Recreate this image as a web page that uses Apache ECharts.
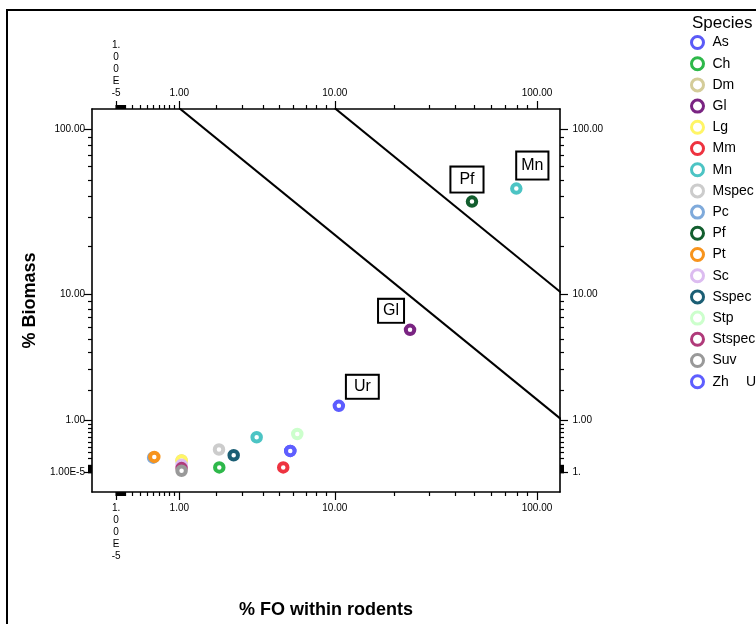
<!DOCTYPE html>
<html><head><meta charset="utf-8">
<script src="https://cdn.jsdelivr.net/npm/echarts@6/dist/echarts.min.js"></script>
<style>html,body{margin:0;padding:0;background:#fff}#c{width:756px;height:624px}</style>
</head><body><div id="c"></div>
<script>
// ---- data ----
const speciesNames = ['As','Ch','Dm','Gl','Lg','Mm','Mn','Mspec','Pc','Pf','Pt','Sc','Sspec','Stp','Stspec','Suv','Zh'];
const speciesColors = ['#5b5bf7','#2eb84a','#d4cc99','#7a2482','#fff566','#ee3340','#4cc4c4','#cccccc','#7faadb','#125e2e','#f7941d','#dcbcf0','#1b5e74','#ccffcc','#b03a7a','#999999','#5e5eff'];
const extraSpecies = ['Ur'];
const extraColors = ['#5c5cff'];

const pointSpecies = ['Pc','Pt','Dm','Lg','Sc','Stspec','Suv','Mspec','Ch','Sspec','Mn','Stp','As','Zh','Mm','Ur','Gl','Pf','Mn'];
const pointFO      = [0.50, 0.52, 1.05, 1.05, 1.05, 1.05, 1.05, 2.09, 2.10, 2.63, 3.67, 6.29, 5.75, 5.75, 5.25, 10.5, 24.1, 48.5, 79.5];
const pointBiomass = [0.215,0.227,0.17, 0.169,0.103,0.055,0.018,0.355,0.065,0.255,0.598,0.67, 0.33, 0.33, 0.065,1.44, 5.78, 37.1, 44.4];

const refLineA_FO = [1, 133];
const refLineA_Biomass = [133, 1];
const refLineB_FO = [10, 133];
const refLineB_Biomass = [133, 10];

const majorTickValues = [0.00001, 1, 10, 100];
const leftTickLabels   = ['1.00E-5', '1.00', '10.00', '100.00'];
const rightTickLabels  = ['1.', '1.00', '10.00', '100.00'];
const xTickLabels      = ['1.\n0\n0\nE\n-5', '1.00', '10.00', '100.00'];
const minorTickMultipliers = [2,3,4,5,6,7,8,9];
const minorTickDecades = [0.001, 0.01, 0.1, 1, 10];

const labeledSpecies = ['Gl','Pf','Mn','Ur'];
// layout of the boxed labels (offset from point, padding)
const labelLayout = {
  Pf: {offset: [-5, -22], padding: [3, 8]},
  Mn: {offset: [16, -23], padding: [4, 4]},
  Gl: {offset: [-19, -19], padding: [2, 4]},
  Ur: {offset: [23.5, -19], padding: [2, 7]}
};

// ---- scale: log10(v + 1) ----
const T = v => Math.log10(v + 1);
const majorT = majorTickValues.map(T);
const minorT = [];
minorTickDecades.forEach(d => {
  if (d < 1) minorT.push(T(d));
  minorTickMultipliers.forEach(m => minorT.push(T(m * d)));
});
const labelFor = arr => v => {
  let best = 0;
  majorT.forEach((t, i) => { if (Math.abs(t - v) < Math.abs(majorT[best] - v)) best = i; });
  return arr[best];
};

const FONT = 'Liberation Sans, Arial, sans-serif';
const xMin = -0.1148, xMax = 2.1138, yMin = -0.1163, yMax = 2.1221;

function axis(kind, position, major, labels, margin, extra) {
  const a = {
    type: 'value', position, min: kind === 'x' ? xMin : yMin, max: kind === 'x' ? xMax : yMax,
    splitLine: {show: false},
    axisLine: {show: major, onZero: false, lineStyle: {color: '#000', width: 1.6}},
    axisTick: {show: true, inside: false, length: major ? 8 : 4, customValues: major ? majorT : minorT,
               lineStyle: {color: '#000', width: 1.2}},
    axisLabel: major ? {show: true, customValues: majorT, formatter: labelFor(labels), margin,
               fontSize: 10, lineHeight: 12, color: '#000', fontFamily: FONT}
             : {show: false}
  };
  return Object.assign(a, extra || {});
}

const xAxes = [
  axis('x', 'bottom', true, xTickLabels, 10, {name: '% FO within rodents', nameLocation: 'middle', nameGap: 109,
       nameTextStyle: {fontSize: 18, fontWeight: 'bold', color: '#000', fontFamily: FONT}}),
  axis('x', 'bottom', false),
  axis('x', 'top', true, xTickLabels, 10),
  axis('x', 'top', false)
];
const yAxes = [
  axis('y', 'left', true, leftTickLabels, 7, {name: '% Biomass', nameLocation: 'middle', nameGap: 46,
       nameTextStyle: {fontSize: 18, fontWeight: 'bold', color: '#000', fontFamily: FONT}}),
  axis('y', 'left', false),
  axis('y', 'right', true, rightTickLabels, 12.5),
  axis('y', 'right', false)
];

const allSpecies = speciesNames.concat(extraSpecies);
const allColors = speciesColors.concat(extraColors);

const series = allSpecies.map((name, i) => {
  const idx = [];
  pointSpecies.forEach((s, k) => { if (s === name) idx.push(k); });
  let topK = idx[0];
  idx.forEach(k => { if (pointBiomass[k] > pointBiomass[topK]) topK = k; });
  return {
    type: 'scatter', name, symbol: 'circle', symbolSize: 8.5,
    itemStyle: {color: '#fff', borderColor: allColors[i], borderWidth: 4, opacity: 1},
    emphasis: {disabled: true},
    data: idx.map(k => {
      const item = {value: [T(pointFO[k]), T(pointBiomass[k])]};
      if (labeledSpecies.includes(name) && k === topK) {
        const L = labelLayout[name];
        item.label = {show: true, position: 'inside', offset: L.offset, formatter: name,
          fontSize: 16, lineHeight: 18, color: '#000', fontFamily: FONT,
          backgroundColor: '#fff', borderColor: '#000', borderWidth: 2, padding: L.padding};
      }
      return item;
    })
  };
});

const refLine = (fo, bio) => ({
  type: 'line', silent: true, symbol: 'none', clip: true, z: 1,
  lineStyle: {color: '#000', width: 2},
  data: fo.map((f, i) => [T(f), T(bio[i])])
});
series.push(refLine(refLineA_FO, refLineA_Biomass));
series.push(refLine(refLineB_FO, refLineB_Biomass));

const chart = echarts.init(document.getElementById('c'), null, {renderer: 'canvas'});
chart.setOption({
  animation: false,
  backgroundColor: '#fff',
  textStyle: {fontFamily: FONT},
  title: {text: 'Species', left: 692, top: 15, padding: 0,
          textStyle: {fontSize: 17, fontWeight: 'normal', color: '#000', fontFamily: FONT}},
  legend: {orient: 'vertical', left: 690, top: 35, padding: 0, itemWidth: 12, itemHeight: 12, itemGap: 6.2,
           icon: 'circle', selectedMode: false, data: speciesNames,
           itemStyle: {borderWidth: 3},
           textStyle: {fontSize: 14, lineHeight: 14, color: '#000', fontFamily: FONT, padding: [0, 0, 0, 4]}},
  grid: {left: 92, top: 109, width: 468, height: 385, containLabel: false},
  xAxis: xAxes,
  yAxis: yAxes,
  series,
  graphic: [
    {type: 'rect', silent: true, shape: {x: 7, y: 10, width: 900, height: 900},
     style: {fill: 'none', stroke: '#000', lineWidth: 2}},
    {type: 'text', silent: true, x: 746, y: 382,
     style: {text: 'Ur', fontSize: 14, fill: '#000', fontFamily: FONT, verticalAlign: 'middle'}}
  ]
});
</script></body></html>
